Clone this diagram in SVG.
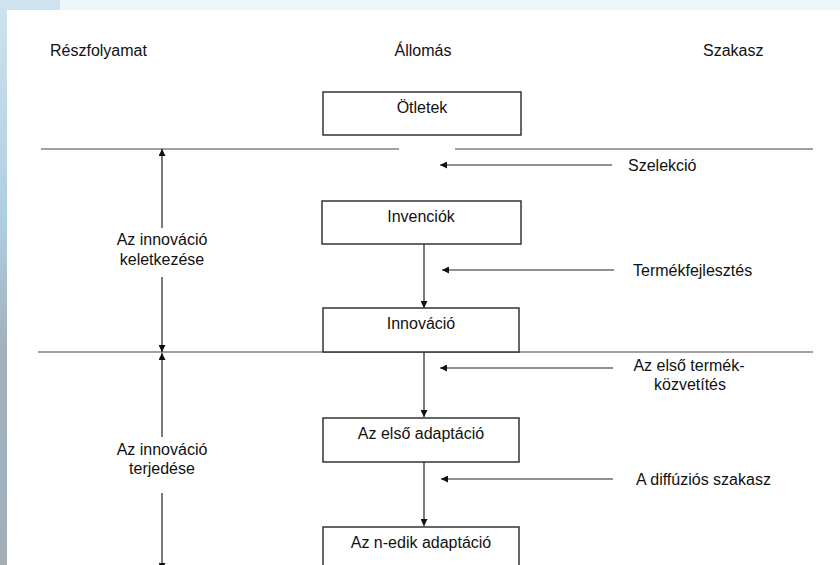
<svg xmlns="http://www.w3.org/2000/svg" width="840" height="565" viewBox="0 0 840 565">
<defs>
<linearGradient id="side" x1="0" y1="0" x2="0" y2="1">
<stop offset="0" stop-color="#cfe2ef"/>
<stop offset="0.4" stop-color="#aecde0"/>
<stop offset="0.62" stop-color="#a2b0ba"/>
<stop offset="0.85" stop-color="#9fb2c0"/>
<stop offset="1" stop-color="#a4adb4"/>
</linearGradient>
<marker id="ah" viewBox="0 0 10 10" refX="10" refY="5" markerWidth="8" markerHeight="7" markerUnits="userSpaceOnUse" orient="auto">
<path d="M0,0 L10,5 L0,10 z" fill="#111"/>
</marker>
</defs>
<style>
text{font-family:"Liberation Sans",Arial,sans-serif;font-size:16px;fill:#111}
.box{fill:#fff;stroke:#333;stroke-width:1.5}
.sep{stroke:#444;stroke-width:1.2;fill:none}
.arr{stroke:#222;stroke-width:1.2;fill:none;marker-end:url(#ah)}
.ln{stroke:#222;stroke-width:1.2;fill:none}
.c{text-anchor:middle}
</style>
<rect x="0" y="0" width="840" height="565" fill="#fff"/>
<rect x="0" y="0" width="840" height="10" fill="#ecf5f8"/>
<rect x="0" y="0" width="60" height="10" fill="#cfe2ef"/>
<rect x="0" y="0" width="7" height="565" fill="url(#side)"/>

<text x="50" y="56">Részfolyamat</text>
<text x="423" y="56" class="c">Állomás</text>
<text x="703" y="56">Szakasz</text>

<g id="connectors">
<line class="sep" x1="41" y1="149" x2="399" y2="149"/>
<line class="sep" x1="455" y1="149" x2="813" y2="149"/>
<line class="sep" x1="38" y1="352" x2="813" y2="352"/>
<line class="arr" x1="162" y1="228" x2="162" y2="149"/>
<line class="arr" x1="162" y1="277" x2="162" y2="352"/>
<line class="arr" x1="162" y1="363" x2="162" y2="353"/>
<line class="ln" x1="162" y1="363" x2="162" y2="437"/>
<line class="arr" x1="162" y1="493" x2="162" y2="570"/>
<line class="arr" x1="612" y1="165" x2="440" y2="165"/>
<line class="arr" x1="614" y1="270" x2="442" y2="270"/>
<line class="arr" x1="613" y1="368" x2="440" y2="368"/>
<line class="arr" x1="613" y1="479" x2="441" y2="479"/>
<line class="arr" x1="424" y1="244" x2="424" y2="308"/>
<line class="arr" x1="424" y1="352" x2="424" y2="417"/>
<line class="arr" x1="424" y1="462" x2="424" y2="526"/>
</g>

<g id="n-otletek"><rect class="box" x="323" y="92" width="198" height="43"/><text x="422" y="113" class="c">Ötletek</text></g>
<g id="n-invenciok"><rect class="box" x="322" y="201" width="199" height="43"/><text x="421" y="222" class="c">Invenciók</text></g>
<g id="n-innovacio"><rect class="box" x="323" y="308" width="196" height="44"/><text x="421" y="329" class="c">Innováció</text></g>
<g id="n-elso"><rect class="box" x="323" y="418" width="196" height="44"/><text x="421" y="439" class="c">Az első adaptáció</text></g>
<g id="n-nedik"><rect class="box" x="323" y="527" width="196" height="50"/><text x="421" y="548" class="c">Az n-edik adaptáció</text></g>

<g id="l-keletkezes"><text x="162" y="245" class="c">Az innováció</text><text x="162" y="265" class="c">keletkezése</text></g>
<g id="l-terjedes"><text x="162" y="455" class="c">Az innováció</text><text x="162" y="474" class="c">terjedése</text></g>
<g id="s-szelekcio"><text x="628" y="171">Szelekció</text></g>
<g id="s-termek"><text x="633" y="276">Termékfejlesztés</text></g>
<g id="s-elsotermek"><text x="689" y="371" class="c">Az első termék-</text><text x="690" y="390" class="c">közvetítés</text></g>
<g id="s-diffuzio"><text x="636" y="485">A diffúziós szakasz</text></g>
</svg>
